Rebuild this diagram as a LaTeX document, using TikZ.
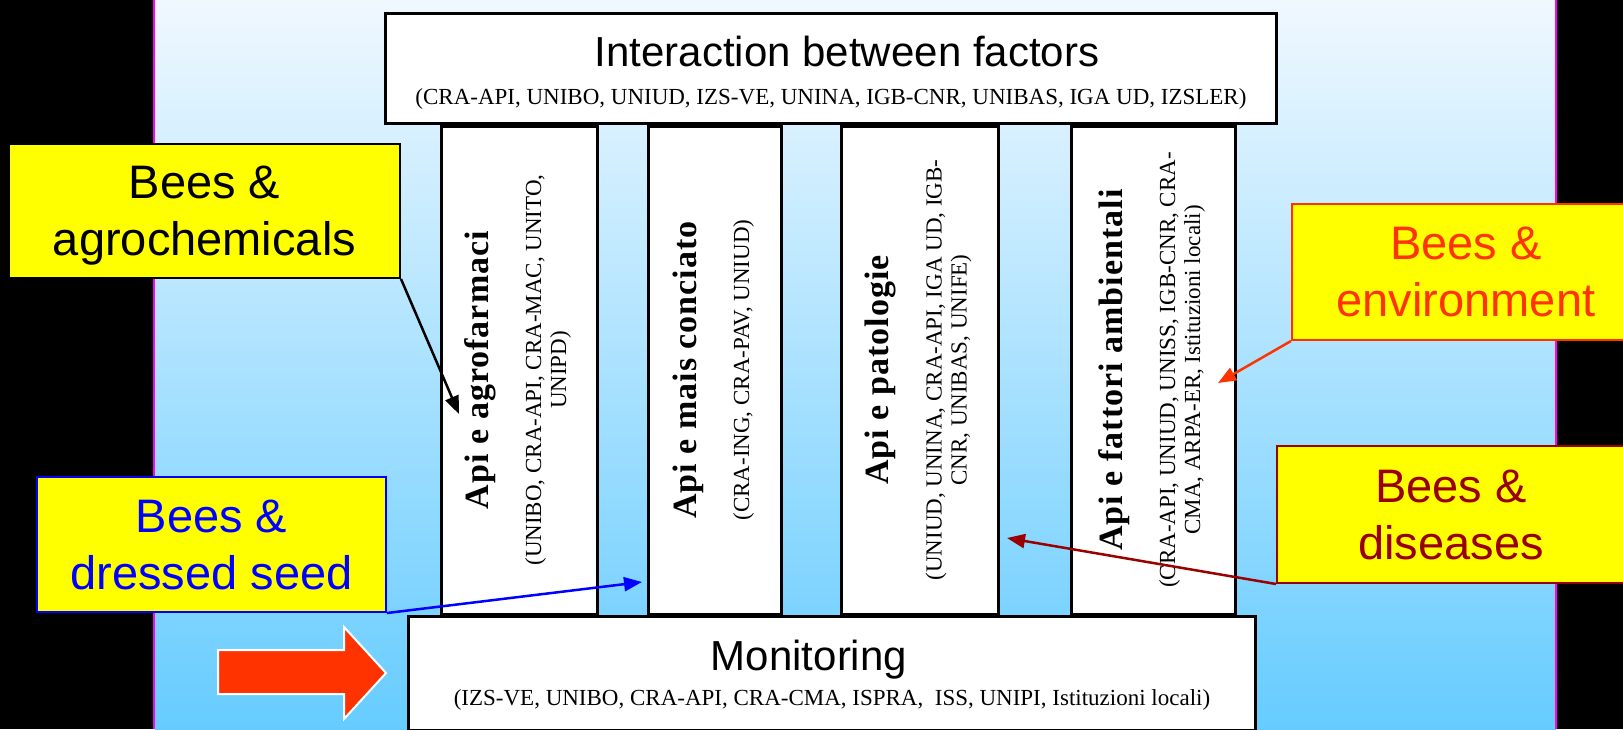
\documentclass[tikz,border=0pt]{standalone}
\usepackage{fontspec}
\setmainfont{Liberation Serif}
\setsansfont{Liberation Sans}
\newfontfamily\coltitlefont{Liberation Serif}[LetterSpace=3]
\usetikzlibrary{arrows.meta}

\definecolor{bgtop}{RGB}{240,248,255}
\definecolor{bgbottom}{RGB}{102,204,255}
\definecolor{calloutyellow}{RGB}{255,255,0}
\definecolor{envred}{RGB}{255,51,0}
\definecolor{diseasered}{RGB}{153,0,0}
\definecolor{seedblue}{RGB}{0,0,255}
\definecolor{framemagenta}{RGB}{255,0,255}

\newcommand{\headfont}{\sffamily\fontsize{42}{46}\selectfont}
\newcommand{\partnerfont}{\rmfamily\fontsize{23}{25}\selectfont}
\newcommand{\calloutfont}{\sffamily\fontsize{47}{57}\selectfont}

\newcommand{\oneinst}[2]{%
  \partnerfont
  \begin{tabular}{@{}c@{}}
    {\coltitlefont\bfseries\fontsize{34}{38}\selectfont #1}\\[28pt]
    #2
  \end{tabular}%
}
\newcommand{\twoinst}[3]{%
  \partnerfont
  \begin{tabular}{@{}c@{}}
    {\coltitlefont\bfseries\fontsize{34}{38}\selectfont #1}\\[28pt]
    #2\\
    #3
  \end{tabular}%
}

\begin{document}
\begin{tikzpicture}[
      x=1pt, y=-1pt,
      every node/.style={inner sep=0pt},
      factorbox/.style={draw, fill=white, line width=3pt},
      themebox/.style={draw, fill=white, line width=3pt, rotate=90, minimum width=488pt},
      callout/.style={draw, fill=calloutyellow, line width=2pt, align=center,
        font=\calloutfont, text depth=0pt},
      pointer/.style={line width=2.5pt, -{Triangle[length=18pt,width=14pt]}}
    ]

      % Slide background
      \clip (0,0) rectangle (1623,729);
      \fill[black] (0,0) rectangle (1623,729);
      \shade[top color=bgtop, bottom color=bgbottom] (155,0) rectangle (1556,729);
      \draw[framemagenta, line width=2pt] (154,0) -- (154,729) (1556,0) -- (1556,729);

      % The four research lines, written bottom to top
      \node[themebox, minimum height=156pt] (agrofarmaci) at (519,370)
        {\twoinst{Api e agrofarmaci}{(UNIBO, CRA-API, CRA-MAC, UNITO,}{UNIPD)}};
      \node[themebox, minimum height=133pt] (mais) at (714.5,370)
        {\oneinst{Api e mais conciato}{(CRA-ING, CRA-PAV, UNIUD)}};
      \node[themebox, minimum height=157pt] (patologie) at (919.5,370)
        {\twoinst{Api e patologie}{(UNIUD, UNINA, CRA-API, IGA UD, IGB-}{CNR, UNIBAS, UNIFE)}};
      \node[themebox, minimum height=164pt] (ambientali) at (1153,370)
        {\twoinst{Api e fattori ambientali}{(CRA-API, UNIUD, UNISS, IGB-CNR, CRA-}{CMA, ARPA-ER, Istituzioni locali)}};

      % Top and bottom boxes
      \node[factorbox, minimum width=891pt, minimum height=110pt] (factors) at (830.5,68) {};
      \node[font=\headfont, anchor=base] (factorstitle) at (847,66) {Interaction between factors};
      \node[font=\partnerfont, anchor=base] (factorspartners) at (831,104)
        {(CRA-API, UNIBO, UNIUD, IZS-VE, UNINA, IGB-CNR, UNIBAS, IGA UD, IZSLER)};
      \node[factorbox, minimum width=847pt, minimum height=114pt] (monitoring) at (831.5,673) {};
      \node[font=\headfont, anchor=base] (monitoringtitle) at (809,670) {Monitoring};
      \node[font=\partnerfont, anchor=base] (monitoringpartners) at (832,705)
        {(IZS-VE, UNIBO, CRA-API, CRA-CMA, ISPRA,\ \ ISS, UNIPI, Istituzioni locali)};

      % Callouts
      \node[callout, minimum width=391pt, minimum height=134pt] (agro) at (204.5,211)
        {Bees \&\\agrochemicals};
      \node[callout, draw=envred, text=envred, minimum width=348pt, minimum height=136pt] (env) at (1466,272)
        {Bees \&\\environment};
      \node[callout, draw=diseasered, text=diseasered, minimum width=348pt, minimum height=137pt] (dis) at (1451,514.5)
        {Bees \&\\diseases};
      \node[callout, draw=seedblue, text=seedblue, minimum width=349pt, minimum height=135pt] (seed) at (211.5,544.5)
        {Bees \&\\dressed seed};

      % Pointers into the columns
      \coordinate (agrotip) at (459,414);
      \coordinate (envtip) at (1218,383);
      \coordinate (distip) at (1007,538);
      \coordinate (seedtip) at (642,582);
      \draw[pointer] (agro.south east) -- (agrotip);
      \draw[pointer, envred] (env.south west) -- (envtip);
      \draw[pointer, diseasered] (dis.south west) -- (distip);
      \draw[pointer, seedblue] (seed.south east) -- (seedtip);

      % Block arrow towards monitoring
      \filldraw[fill=envred, draw=white, line width=2pt]
        (218,650) -- (344,650) -- (344,627) -- (386,673) -- (344,719) -- (344,694) -- (218,694) -- cycle;
    \end{tikzpicture}
\end{document}
